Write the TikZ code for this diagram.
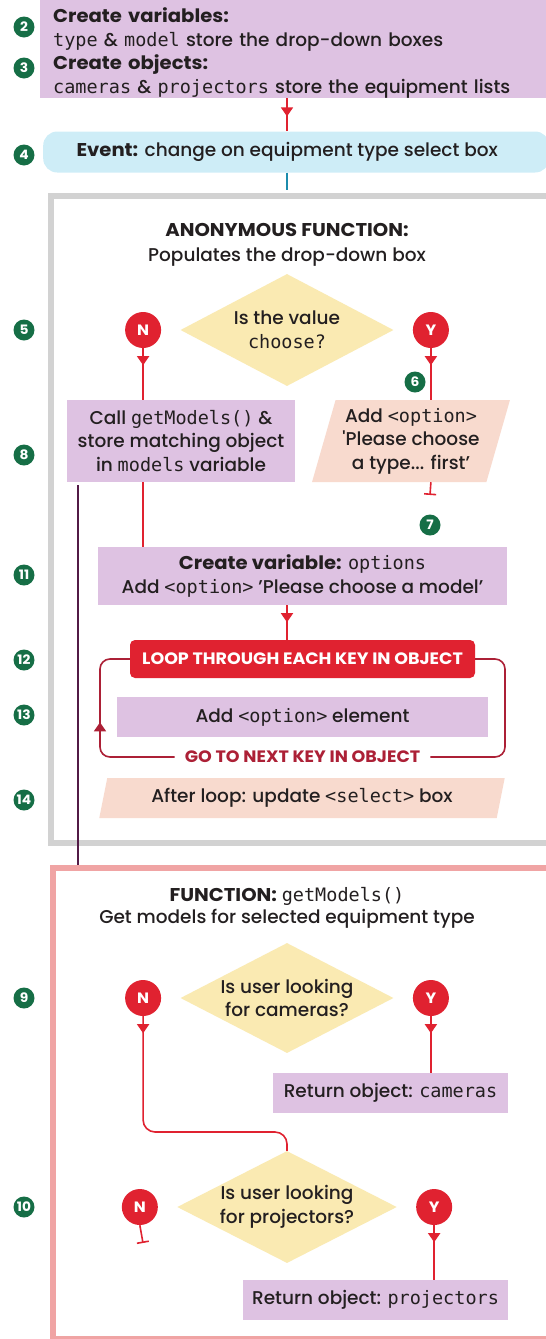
\documentclass[tikz,border=0pt]{standalone}
\usepackage{fontspec}
\setmainfont{Poppins}[UprightFont={* Medium}, BoldFont={* Bold}, BoldFeatures={FakeStretch=1.06}]
\setmonofont{DejaVu Sans Mono}
\usetikzlibrary{positioning, arrows.meta, shapes.geometric, calc, decorations.markings}
\definecolor{stepfill}{RGB}{222,194,226}
\definecolor{iofill}{RGB}{248,218,206}
\definecolor{askfill}{RGB}{250,234,178}
\definecolor{eventfill}{RGB}{206,237,247}
\definecolor{numgreen}{RGB}{22,110,70}
\definecolor{flowred}{RGB}{224,34,48}
\definecolor{loopred}{RGB}{172,32,54}
\definecolor{framegray}{RGB}{210,210,210}
\definecolor{framepink}{RGB}{240,164,164}
\definecolor{eventteal}{RGB}{28,140,172}
\definecolor{callpurple}{RGB}{82,26,70}
\definecolor{ink}{RGB}{35,31,32}
\newcommand{\flowfont}{\fontsize{18.5}{23.5}\selectfont}
\newcommand{\cd}[1]{\texttt{#1}}
\tikzset{
  numdot/.style={
    circle, fill=numgreen, text=white,
    inner sep=0pt, minimum size=21pt,
    font=\bfseries\fontsize{13}{13}\selectfont
  },
  ynbadge/.style={
    circle, fill=flowred, text=white,
    inner sep=0pt, minimum size=36pt,
    font=\bfseries\fontsize{15}{15}\selectfont
  },
  stepbox/.style={
    rectangle, fill=stepfill, text=ink,
    inner sep=0pt, align=center, font=\flowfont
  },
  iobox/.style={
    trapezium, trapezium left angle=72, trapezium right angle=108,
    trapezium stretches=true, fill=iofill, text=ink,
    inner sep=0pt, align=center, font=\flowfont
  },
  askbox/.style={
    diamond, aspect=2, fill=askfill, text=ink,
    inner sep=0pt, align=center, font=\flowfont
  },
  headtext/.style={text=ink, align=center, font=\fontsize{18.5}{25}\selectfont},
  fnframe/.style={rectangle, draw=#1, line width=6pt, fill=white, inner sep=0pt},
  loopbox/.style={
    rectangle, rounded corners=5pt, fill=flowred, text=white,
    inner sep=0pt, font=\bfseries\fontsize{16.5}{16.5}\selectfont
  },
  looplabel/.style={text=loopred, inner xsep=10pt, font=\bfseries\fontsize{16.5}{16.5}\selectfont},
  eventbox/.style={rectangle, rounded corners=14pt, fill=eventfill, text=ink, inner sep=0pt, font=\flowfont},
  flowline/.style={color=flowred, line width=1.6pt},
  loopline/.style={color=loopred, line width=1.6pt},
  tipmark/.style={
    decoration={markings, mark=at position #1 with {\arrow{Triangle[width=12pt,length=9pt]}}},
    postaction={decorate}
  },
  tipmark/.default=17pt,
  stopline/.style={flowline, -{Bar[width=12pt]}},
  calllink/.style={draw=callpurple, line width=2pt},
  eventlink/.style={draw=eventteal, line width=2pt}
}

\begin{document}
\begin{tikzpicture}[x=1pt, y=-1pt, node distance=19pt]
  \useasboundingbox (0,0) rectangle (546,1339);
  \coordinate (spine) at (287,0);

  % setup and event
  \node[stepbox, anchor=north west, minimum width=506pt, minimum height=98pt, text width=480pt, align=left] (vars) at (40,0)
    {\rule{0pt}{22pt}\textbf{Create variables:}\\\cd{type} \& \cd{model} store the drop-down boxes\\\textbf{Create objects:}\\\cd{cameras} \& \cd{projectors} store the equipment lists};
  \node[numdot] (num2) at (24,27) {2};
  \node[numdot] (num3) at (24,68) {3};
  \node[eventbox, anchor=west, minimum width=506pt, minimum height=41pt] (event) at (43,152)
    {\hspace*{-18pt}\textbf{Event:} change on equipment type select box};
  \node[numdot] (num4) at (24,155) {4};
  \draw[flowline, tipmark=18pt] (vars.south -| spine) -- (event.north -| spine);
  \draw[eventlink] (event.south -| spine) -- (spine |- 0,190);

  % anonymous function
  \node[fnframe=framegray, anchor=north west, minimum width=520pt, minimum height=647pt] (anonfn) at (48,193) {};
  \node[headtext] (anontitle) at (287,245) {\textbf{ANONYMOUS FUNCTION:}\\Populates the drop-down box};
  \node[askbox, minimum width=213pt, minimum height=112pt] (choose) at (287,330) {Is the value\\\cd{choose?}};
  \node[ynbadge, left=of choose] (chooseN) {N};
  \node[ynbadge, right=of choose] (chooseY) {Y};
  \node[numdot] (num5) at (24,330) {5};
  \node[stepbox, minimum width=228pt, minimum height=82pt] (callget) at (181,441)
    {Call \cd{getModels()} \&\\store matching object\\in \cd{models} variable};
  \node[iobox, minimum width=198pt, minimum height=82pt] (pickfirst) at (411,441)
    {Add \cd{<option>}\\\textquotesingle Please choose\\a type... first'};
  \node[numdot] (num8) at (24,455) {8};
  \coordinate (stop6) at (430,495);
  \draw[flowline, tipmark] (chooseN.south) -- (chooseN.south |- callget.north);
  \draw[flowline, tipmark] (chooseY.south) -- (chooseY.south |- pickfirst.north);
  \draw[stopline] (chooseY |- pickfirst.south) -- (stop6);
  \node[numdot] (num6) at (415,382) {6};
  \node[numdot] (num7) at (430,525) {7};

  \node[stepbox, minimum width=409pt, minimum height=58pt] (optvar) at (302.5,576)
    {\textbf{Create variable:} \cd{options}\\Add \cd{<option>} 'Please choose a model'};
  \node[numdot] (num11) at (24,575) {11};
  \draw[flowline] (chooseN |- callget.south) -- (chooseN |- optvar.north);

  % loop over the object
  \node[loopbox, minimum width=345pt, minimum height=38pt] (loop) at (302.5,659) {LOOP THROUGH EACH KEY IN OBJECT};
  \node[numdot] (num12) at (24,660) {12};
  \draw[flowline, tipmark] (optvar.south -| spine) -- (loop.north -| spine);
  \node[stepbox, minimum width=371pt, minimum height=40pt] (addopt) at (302.5,717) {Add \cd{<option>} element};
  \node[numdot] (num13) at (24,715) {13};
  \node[looplabel] (nextkey) at (302.5,757) {GO TO NEXT KEY IN OBJECT};
  \coordinate (loopR) at (505,0);
  \coordinate (loopL) at (100,0);
  \draw[loopline, rounded corners=10pt] (loop.east) -| (loopR |- nextkey) -- (nextkey.east);
  \draw[loopline, rounded corners=10pt, tipmark=105pt] (nextkey.west) -| (loopL |- loop) -- (loop.west);
  \node[iobox, minimum width=407pt, minimum height=40pt] (afterloop) at (302,798) {After loop: update \cd{<select>} box};
  \node[numdot] (num14) at (24,800) {14};

  % getModels function
  \node[fnframe=framepink, anchor=north west, minimum width=520pt, minimum height=471pt] (getfn) at (50,865) {};
  \coordinate (callfoot) at ($(callget.south west)+(11,3)$);
  \draw[calllink] (callfoot) -- (callfoot |- getfn.north);
  \node[headtext, font=\fontsize{18.5}{21.5}\selectfont] (fntitle) at (287,908)
    {\textbf{FUNCTION:} \cd{getModels()}\\Get models for selected equipment type};
  \node[askbox, minimum width=213pt, minimum height=110pt] (askcam) at (287,998) {Is user looking\\for cameras?};
  \node[ynbadge, left=of askcam] (camN) {N};
  \node[ynbadge, right=of askcam] (camY) {Y};
  \node[numdot] (num9) at (24,998) {9};
  \node[stepbox, minimum width=235pt, minimum height=40pt] (camret) at (390.5,1093) {Return object: \cd{cameras}};
  \node[askbox, minimum width=213pt, minimum height=112pt] (askproj) at (287,1207) {Is user looking\\for projectors?};
  \node[ynbadge, left=of askproj] (projN) {N};
  \node[ynbadge, right=of askproj] (projY) {Y};
  \node[numdot] (num10) at (24,1207) {10};
  \node[stepbox, minimum width=265pt, minimum height=40pt] (projret) at (375.5,1300) {Return object: \cd{projectors}};
  \coordinate (camturn) at (0,1132);
  \coordinate (stop10) at (143,1243);
  \draw[flowline, tipmark] (camY.south) -- (camY.south |- camret.north);
  \draw[flowline, tipmark, rounded corners=12pt] (camN.south) -- (camN |- camturn) -- (askproj |- camturn) -- (askproj.north);
  \draw[stopline] (projN.south) -- (stop10);
  \draw[flowline, tipmark] (projY.south) -- (projY.south |- projret.north);
\end{tikzpicture}
\end{document}
